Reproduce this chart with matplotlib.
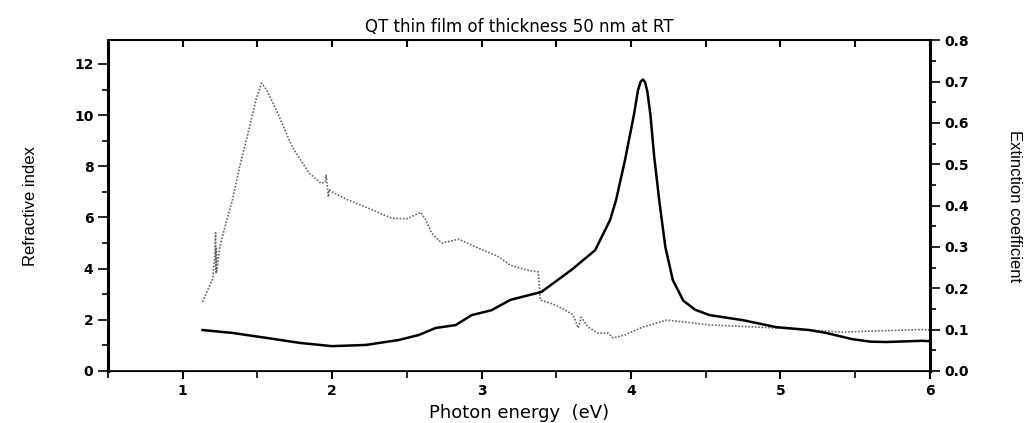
import matplotlib.pyplot as plt
from matplotlib.ticker import MultipleLocator

# refractive index (dotted, left axis)
n_energy = [1.133, 1.17, 1.20, 1.215, 1.22, 1.222, 1.225, 1.227, 1.25, 1.29, 1.333, 1.38, 1.447, 1.49,
            1.527, 1.56, 1.627, 1.733, 1.847, 1.927, 1.955, 1.96, 1.975, 1.98, 2.0, 2.1, 2.227, 2.4,
            2.5, 2.593, 2.627, 2.667, 2.733, 2.847, 2.96, 3.113, 3.19, 3.3, 3.38, 3.393, 3.467,
            3.52, 3.56, 3.613, 3.647, 3.667, 3.69, 3.713, 3.78, 3.847, 3.88, 3.96, 4.08, 4.24,
            4.527, 4.973, 5.413, 5.947, 6.0]
n_values = [2.70, 3.2, 3.6, 4.5, 5.4, 3.8, 4.8, 3.9, 4.9, 5.8, 6.68, 7.97, 9.53, 10.6,
            11.25, 11.0, 10.2, 8.75, 7.73, 7.33, 7.4, 7.65, 6.8, 7.1, 7.0, 6.7, 6.4, 5.97,
            5.95, 6.2, 5.9, 5.38, 5.0, 5.15, 4.85, 4.47, 4.14, 3.95, 3.87, 2.77, 2.64,
            2.5, 2.38, 2.19, 1.68, 2.1, 1.9, 1.72, 1.48, 1.48, 1.29, 1.41, 1.72, 1.99,
            1.80, 1.68, 1.52, 1.62, 1.60]

# extinction coefficient (solid, right axis)
k_energy = [1.133, 1.333, 1.56, 1.78, 2.0, 2.227, 2.447, 2.58, 2.693, 2.827, 2.933, 3.067, 3.193,
            3.4, 3.6, 3.76, 3.86, 3.9, 3.96, 4.02, 4.047, 4.065, 4.08, 4.095, 4.11, 4.13, 4.155,
            4.19, 4.23, 4.28, 4.35, 4.43, 4.527, 4.747, 4.973, 5.193, 5.307, 5.48, 5.6, 5.707,
            5.947, 6.0]
k_values = [0.099, 0.092, 0.080, 0.068, 0.060, 0.063, 0.075, 0.087, 0.104, 0.111, 0.135, 0.147, 0.172,
            0.191, 0.244, 0.292, 0.365, 0.413, 0.51, 0.62, 0.679, 0.700, 0.705, 0.698, 0.675, 0.62,
            0.52, 0.41, 0.30, 0.22, 0.17, 0.148, 0.135, 0.123, 0.106, 0.099, 0.092, 0.077, 0.071,
            0.070, 0.073, 0.072]

fig = plt.figure(figsize=(10.24, 4.23), dpi=100)
ax = fig.add_axes([0.1055, 0.123, 0.8025, 0.782])
ax2 = ax.twinx()

ax.plot(n_energy, n_values, color="#666666", linestyle=(0, (1, 1)), linewidth=1.2)
ax2.plot(k_energy, k_values, color="black", linewidth=1.8)

ax.set_xlim(0.5, 6)
ax.set_ylim(0, 12.93)
ax2.set_ylim(0, 0.8)

ax.xaxis.set_major_locator(MultipleLocator(1))
ax.xaxis.set_minor_locator(MultipleLocator(0.5))
ax.yaxis.set_major_locator(MultipleLocator(2))
ax.yaxis.set_minor_locator(MultipleLocator(1))
ax2.yaxis.set_major_locator(MultipleLocator(0.1))
ax2.yaxis.set_minor_locator(MultipleLocator(0.05))
ax2.yaxis.set_major_formatter(plt.FormatStrFormatter("%.1f"))

ax.tick_params(axis="x", which="both", bottom=True, top=False, direction="out", labelsize=10)
ax.tick_params(axis="x", which="major", length=6, width=1.5)
ax.tick_params(axis="x", which="minor", length=5, width=1.2)
ax.tick_params(axis="y", which="major", direction="out", length=7, width=1.2, labelsize=10)
ax.tick_params(axis="y", which="minor", direction="out", length=4, width=1.2)
ax2.tick_params(axis="y", which="major", direction="out", length=7, width=1.2, labelsize=10)
ax2.tick_params(axis="y", which="minor", direction="out", length=4, width=1.2)

# top axis ticks point inward, no labels
top = ax.secondary_xaxis("top")
top.xaxis.set_major_locator(MultipleLocator(1))
top.xaxis.set_minor_locator(MultipleLocator(0.5))
top.tick_params(axis="x", which="both", direction="in", length=5, width=1.5, labeltop=False)
top.spines["top"].set_linewidth(1.2)

for lbl in ax.get_xticklabels() + ax.get_yticklabels() + ax2.get_yticklabels():
    lbl.set_fontweight("bold")

ax.spines["left"].set_linewidth(2.2)
ax2.spines["right"].set_linewidth(2.2)
ax.spines["top"].set_linewidth(1.2)
ax.spines["bottom"].set_linewidth(1.2)
ax2.spines["left"].set_visible(False)

ax.set_xlabel("Photon energy  (eV)", fontsize=13, labelpad=4)
ax.set_ylabel("Refractive index", fontsize=12, fontfamily="Liberation Sans", labelpad=26)
ax2.set_ylabel("Extinction coefficient", fontsize=12, fontfamily="Liberation Sans",
               rotation=270, labelpad=38)
ax.set_title("QT thin film of thickness 50 nm at RT", fontsize=12, pad=6)

fig.savefig("out.png", dpi=100)
